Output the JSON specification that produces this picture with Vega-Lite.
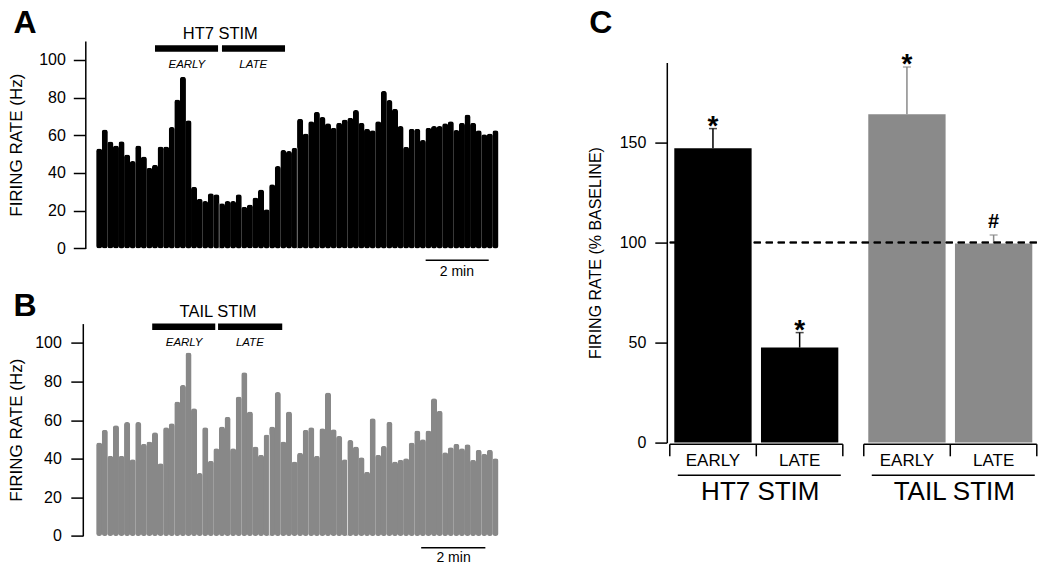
{
  "$schema": "https://vega.github.io/schema/vega-lite/v6.json",
  "autosize": {"type": "pad"},
  "padding": {"left": 7.3, "top": 7, "right": 5, "bottom": 5},
  "background": "white",
  "config": {
    "font": "Liberation Sans",
    "view": {"stroke": null},
    "bar": {"continuousBandSize": 6.1},
    "axis": {"domainColor": "#000", "domainWidth": 1.5, "tickColor": "#000", "tickWidth": 1.5, "labelColor": "#000", "titleColor": "#000", "titleFontWeight": "normal", "grid": false, "labelFont": "Liberation Sans", "titleFont": "Liberation Sans"},
    "text": {"font": "Liberation Sans", "color": "#000"}
  },
  "datasets": {
    "a": [
      {"i":0,"v":53},{"i":1,"v":63},{"i":2,"v":56.7},{"i":3,"v":54.6},{"i":4,"v":56.8},{"i":5,"v":49.8},{"i":6,"v":46.3},{"i":7,"v":54.6},{"i":8,"v":48.8},{"i":9,"v":42.8},
      {"i":10,"v":44.3},{"i":11,"v":54},{"i":12,"v":54},{"i":13,"v":64.4},{"i":14,"v":79},{"i":15,"v":91},{"i":16,"v":68},{"i":17,"v":32.7},{"i":18,"v":26.3},{"i":19,"v":25.1},
      {"i":20,"v":29.2},{"i":21,"v":28.7},{"i":22,"v":23.9},{"i":23,"v":25.1},{"i":24,"v":25.1},{"i":25,"v":28.7},{"i":26,"v":22.1},{"i":27,"v":23.3},{"i":28,"v":27},{"i":29,"v":31.3},
      {"i":30,"v":20.7},{"i":31,"v":34},{"i":32,"v":43.7},{"i":33,"v":52.2},{"i":34,"v":51.6},{"i":35,"v":53.4},{"i":36,"v":68.8},{"i":37,"v":61},{"i":38,"v":67.5},{"i":39,"v":72.4},
      {"i":40,"v":69.7},{"i":41,"v":66.4},{"i":42,"v":64},{"i":43,"v":66.7},{"i":44,"v":68.4},{"i":45,"v":69.3},{"i":46,"v":73.4},{"i":47,"v":66.7},{"i":48,"v":63.5},{"i":49,"v":62.6},
      {"i":50,"v":67.5},{"i":51,"v":83.5},{"i":52,"v":78.7},{"i":53,"v":74.1},{"i":54,"v":64.9},{"i":55,"v":53.9},{"i":56,"v":63.5},{"i":57,"v":63.5},{"i":58,"v":57.5},{"i":59,"v":64},
      {"i":60,"v":64.9},{"i":61,"v":64.9},{"i":62,"v":66.4},{"i":63,"v":67.5},{"i":64,"v":62.8},{"i":65,"v":66.7},{"i":66,"v":71},{"i":67,"v":66.7},{"i":68,"v":62.6},{"i":69,"v":60.5},
      {"i":70,"v":61},{"i":71,"v":62.6}
    ],
    "b": [
      {"i":0,"v":48.4},{"i":1,"v":55},{"i":2,"v":41.5},{"i":3,"v":57.3},{"i":4,"v":41.5},{"i":5,"v":59},{"i":6,"v":39.7},{"i":7,"v":59},{"i":8,"v":47.7},{"i":9,"v":48.9},
      {"i":10,"v":53.7},{"i":11,"v":37.6},{"i":12,"v":56.3},{"i":13,"v":58.4},{"i":14,"v":69.6},{"i":15,"v":78.2},{"i":16,"v":95},{"i":17,"v":66.2},{"i":18,"v":32.6},{"i":19,"v":56.3},
      {"i":20,"v":39},{"i":21,"v":45.4},{"i":22,"v":56.7},{"i":23,"v":61.8},{"i":24,"v":45.4},{"i":25,"v":72.2},{"i":26,"v":84.8},{"i":27,"v":64.4},{"i":28,"v":46.3},{"i":29,"v":42},
      {"i":30,"v":52.6},{"i":31,"v":56.7},{"i":32,"v":74.5},{"i":33,"v":48.9},{"i":34,"v":64.4},{"i":35,"v":38.5},{"i":36,"v":43.1},{"i":37,"v":55},{"i":38,"v":56.3},{"i":39,"v":41.5},
      {"i":40,"v":55.8},{"i":41,"v":74.3},{"i":42,"v":55.3},{"i":43,"v":51.8},{"i":44,"v":39.7},{"i":45,"v":49.7},{"i":46,"v":46.3},{"i":47,"v":40.8},{"i":48,"v":33.3},{"i":49,"v":61},
      {"i":50,"v":42},{"i":51,"v":46.6},{"i":52,"v":59.2},{"i":53,"v":38.5},{"i":54,"v":39.4},{"i":55,"v":40.2},{"i":56,"v":48.4},{"i":57,"v":54.6},{"i":58,"v":50.1},{"i":59,"v":54.6},
      {"i":60,"v":71.3},{"i":61,"v":64.8},{"i":62,"v":43.4},{"i":63,"v":45.9},{"i":64,"v":47.7},{"i":65,"v":45.4},{"i":66,"v":47.5},{"i":67,"v":39.4},{"i":68,"v":44.6},{"i":69,"v":42.5},
      {"i":70,"v":44.6},{"i":71,"v":40.2}
    ],
    "agaps": [{"x": 21.5, "top": 23.9}, {"x": 35.5, "top": 53.4}],
    "bgaps": [{"x": 30.5, "top": 52.6}, {"x": 44.5, "top": 39.7}],
    "astim": [
      {"period": "EARLY", "start": 10, "end": 21.3, "mid": 15.7},
      {"period": "LATE", "start": 22, "end": 33.3, "mid": 27.6}
    ],
    "bstim": [
      {"period": "EARLY", "start": 9.5, "end": 20.8, "mid": 15.2},
      {"period": "LATE", "start": 21.3, "end": 32.8, "mid": 27}
    ],
    "c": [
      {"stim": "HT7 STIM", "phase": "EARLY", "v": 147.2, "hi": 157, "sig": "*"},
      {"stim": "HT7 STIM", "phase": "LATE", "v": 47.5, "hi": 55, "sig": "*"},
      {"stim": "TAIL STIM", "phase": "EARLY", "v": 164.2, "hi": 187.8, "sig": "*"},
      {"stim": "TAIL STIM", "phase": "LATE", "v": 99.5, "hi": 103.8, "sig": "#"}
    ],
    "groups": [{"stim": "HT7 STIM"}, {"stim": "TAIL STIM"}]
  },
  "spacing": 82.5,
  "hconcat": [
    {
      "bounds": "flush",
      "spacing": 74.6,
      "vconcat": [
        {
          "width": 414,
          "height": 207.4,
          "layer": [
            {
              "data": {"name": "a"},
              "mark": {"type": "bar", "color": "#000", "width": 6.1, "cornerRadius": 2.7},
              "encoding": {
                "x": {"field": "i", "type": "quantitative", "scale": {"domain": [-0.5, 71.5], "nice": false, "zero": false}, "axis": null},
                "y": {"field": "v", "type": "quantitative", "scale": {"domain": [0, 110], "nice": false}, "axis": {"title": "FIRING RATE (Hz)", "values": [0, 20, 40, 60, 80, 100], "offset": 5, "tickSize": 12, "labelPadding": 8, "labelFontSize": 16, "titleFontSize": 17, "titlePadding": 13}}
              }
            },
            {
              "data": {"name": "agaps"},
              "mark": {"type": "rule", "color": "#777", "strokeWidth": 1},
              "encoding": {"x": {"field": "x", "type": "quantitative"}, "y": {"field": "top", "type": "quantitative"}, "y2": {"datum": 0}}
            },
            {
              "data": {"name": "astim"},
              "mark": {"type": "rule", "color": "#000", "strokeWidth": 6.5},
              "encoding": {"x": {"field": "start", "type": "quantitative"}, "x2": {"field": "end"}, "y": {"datum": 106}}
            },
            {
              "data": {"name": "astim"},
              "mark": {"type": "text", "fontSize": 11.5, "fontStyle": "italic", "baseline": "middle"},
              "encoding": {"x": {"field": "mid", "type": "quantitative"}, "y": {"datum": 97.2}, "text": {"field": "period"}}
            },
            {
              "data": {"values": [{"label": "HT7 STIM"}]},
              "mark": {"type": "text", "fontSize": 16.5, "baseline": "middle"},
              "encoding": {"x": {"datum": 21.7}, "y": {"datum": 113.6}, "text": {"field": "label"}}
            },
            {
              "data": {"values": [{"label": "A"}]},
              "mark": {"type": "text", "fontSize": 32, "fontWeight": "bold", "baseline": "alphabetic", "align": "center"},
              "encoding": {"x": {"datum": -13.3}, "y": {"datum": 114.1}, "text": {"field": "label"}}
            },
            {
              "data": {"values": [{"label": "2 min"}]},
              "mark": {"type": "rule", "color": "#000", "strokeWidth": 1.5},
              "encoding": {"x": {"datum": 58.5}, "x2": {"datum": 69.8}, "y": {"datum": -6.3}}
            },
            {
              "data": {"values": [{"label": "2 min"}]},
              "mark": {"type": "text", "fontSize": 14, "baseline": "middle"},
              "encoding": {"x": {"datum": 64.1}, "y": {"datum": -12.6}, "text": {"field": "label"}}
            }
          ]
        },
        {
          "width": 414,
          "height": 212.3,
          "layer": [
            {
              "data": {"name": "b"},
              "mark": {"type": "bar", "color": "#888888", "width": 6.1, "cornerRadius": 2.7},
              "encoding": {
                "x": {"field": "i", "type": "quantitative", "scale": {"domain": [-0.5, 71.5], "nice": false, "zero": false}, "axis": null},
                "y": {"field": "v", "type": "quantitative", "scale": {"domain": [0, 110], "nice": false}, "axis": {"title": "FIRING RATE (Hz)", "values": [0, 20, 40, 60, 80, 100], "offset": 7.5, "tickSize": 12, "labelPadding": 9.5, "labelFontSize": 16, "titleFontSize": 17, "titlePadding": 9}}
              }
            },
            {
              "data": {"name": "bgaps"},
              "mark": {"type": "rule", "color": "#d8d8d8", "strokeWidth": 1},
              "encoding": {"x": {"field": "x", "type": "quantitative"}, "y": {"field": "top", "type": "quantitative"}, "y2": {"datum": 0}}
            },
            {
              "data": {"name": "bstim"},
              "mark": {"type": "rule", "color": "#000", "strokeWidth": 6.5},
              "encoding": {"x": {"field": "start", "type": "quantitative"}, "x2": {"field": "end"}, "y": {"datum": 108.4}}
            },
            {
              "data": {"name": "bstim"},
              "mark": {"type": "text", "fontSize": 11.5, "fontStyle": "italic", "baseline": "middle"},
              "encoding": {"x": {"field": "mid", "type": "quantitative"}, "y": {"datum": 100.2}, "text": {"field": "period"}}
            },
            {
              "data": {"values": [{"label": "TAIL STIM"}]},
              "mark": {"type": "text", "fontSize": 16.5, "baseline": "middle"},
              "encoding": {"x": {"datum": 21.3}, "y": {"datum": 116}, "text": {"field": "label"}}
            },
            {
              "data": {"values": [{"label": "B"}]},
              "mark": {"type": "text", "fontSize": 32, "fontWeight": "bold", "baseline": "alphabetic", "align": "center"},
              "encoding": {"x": {"datum": -13.3}, "y": {"datum": 114}, "text": {"field": "label"}}
            },
            {
              "data": {"values": [{"label": "2 min"}]},
              "mark": {"type": "rule", "color": "#000", "strokeWidth": 1.5},
              "encoding": {"x": {"datum": 57.7}, "x2": {"datum": 69.2}, "y": {"datum": -6.2}}
            },
            {
              "data": {"values": [{"label": "2 min"}]},
              "mark": {"type": "text", "fontSize": 14, "baseline": "middle"},
              "encoding": {"x": {"datum": 63.5}, "y": {"datum": -11.4}, "text": {"field": "label"}}
            }
          ]
        }
      ]
    },
    {
      "bounds": "flush",
      "spacing": 20.6,
      "vconcat": [
        {
          "width": 1,
          "height": 1,
          "data": {"values": [{"label": ""}]},
          "mark": {"type": "text"},
          "encoding": {"text": {"field": "label"}}
        },
        {
          "width": 370,
          "height": 380,
          "data": {"name": "c"},
          "layer": [
            {
              "mark": {"type": "bar"},
              "encoding": {
                "x": {"field": "stim", "type": "nominal", "scale": {"paddingInner": 0.108, "paddingOuter": 0.0077, "align": 1}, "axis": null},
                "xOffset": {"field": "phase", "type": "nominal", "scale": {"paddingInner": 0.108, "paddingOuter": 0.052}},
                "y": {"field": "v", "type": "quantitative", "scale": {"domain": [0, 190], "nice": false}, "axis": {"title": "FIRING RATE (% BASELINE)", "values": [0, 50, 100, 150], "tickSize": 12, "labelPadding": 9, "labelFontSize": 16, "titleFontSize": 16, "titlePadding": 16}},
                "color": {"field": "stim", "type": "nominal", "scale": {"domain": ["HT7 STIM", "TAIL STIM"], "range": ["#000000", "#8a8a8a"]}, "legend": null}
              }
            },
            {
              "mark": {"type": "rule", "strokeWidth": 1.5},
              "encoding": {
                "x": {"field": "stim", "type": "nominal"},
                "xOffset": {"field": "phase", "type": "nominal"},
                "y": {"field": "v", "type": "quantitative"},
                "y2": {"field": "hi"},
                "color": {"field": "stim", "type": "nominal"}
              }
            },
            {
              "mark": {"type": "tick", "orient": "horizontal", "size": 8, "thickness": 1.5},
              "encoding": {
                "x": {"field": "stim", "type": "nominal"},
                "xOffset": {"field": "phase", "type": "nominal"},
                "y": {"field": "hi", "type": "quantitative"},
                "color": {"field": "stim", "type": "nominal"}
              }
            },
            {
              "mark": {"type": "rule", "color": "#000", "strokeWidth": 1.5, "strokeDash": [7, 5]},
              "encoding": {"y": {"datum": 100}}
            },
            {
              "transform": [{"filter": "datum.sig == '*'"}],
              "mark": {"type": "text", "fontSize": 28, "fontWeight": "bold", "baseline": "alphabetic", "dy": 6},
              "encoding": {
                "x": {"field": "stim", "type": "nominal"},
                "xOffset": {"field": "phase", "type": "nominal"},
                "y": {"field": "hi", "type": "quantitative"},
                "text": {"field": "sig"}
              }
            },
            {
              "transform": [{"filter": "datum.sig == '#'"}],
              "mark": {"type": "text", "fontSize": 20, "fontWeight": "bold", "baseline": "alphabetic", "dy": -7},
              "encoding": {
                "x": {"field": "stim", "type": "nominal"},
                "xOffset": {"field": "phase", "type": "nominal"},
                "y": {"field": "hi", "type": "quantitative"},
                "text": {"field": "sig"}
              }
            },
            {
              "mark": {"type": "text", "fontSize": 17, "baseline": "middle"},
              "encoding": {
                "x": {"field": "stim", "type": "nominal"},
                "xOffset": {"field": "phase", "type": "nominal"},
                "y": {"datum": -9.35},
                "text": {"field": "phase"}
              }
            },
            {
              "data": {"name": "groups"},
              "mark": {"type": "bar", "color": "#000", "width": {"band": 1}},
              "encoding": {
                "x": {"field": "stim", "type": "nominal"},
                "y": {"datum": -0.48},
                "y2": {"datum": -1.22}
              }
            },
            {
              "data": {"name": "groups"},
              "mark": {"type": "rule", "color": "#000", "strokeWidth": 1.5},
              "encoding": {"x": {"field": "stim", "type": "nominal", "bandPosition": 0}, "y": {"datum": -0.85}, "y2": {"datum": -6.85}}
            },
            {
              "data": {"name": "groups"},
              "mark": {"type": "rule", "color": "#000", "strokeWidth": 1.5},
              "encoding": {"x": {"field": "stim", "type": "nominal", "bandPosition": 0.5}, "y": {"datum": -0.85}, "y2": {"datum": -6.85}}
            },
            {
              "data": {"name": "groups"},
              "mark": {"type": "rule", "color": "#000", "strokeWidth": 1.5},
              "encoding": {"x": {"field": "stim", "type": "nominal", "bandPosition": 1}, "y": {"datum": -0.85}, "y2": {"datum": -6.85}}
            },
            {
              "data": {"name": "groups"},
              "mark": {"type": "bar", "color": "#000", "width": {"band": 0.942}, "xOffset": 3},
              "encoding": {
                "x": {"field": "stim", "type": "nominal"},
                "y": {"datum": -15.93},
                "y2": {"datum": -16.67}
              }
            },
            {
              "data": {"name": "groups"},
              "mark": {"type": "text", "fontSize": 26, "baseline": "middle", "dx": 4},
              "encoding": {"x": {"field": "stim", "type": "nominal"}, "y": {"datum": -24.9}, "text": {"field": "stim"}}
            },
            {
              "data": {"values": [{"stim": "HT7 STIM", "label": "C"}]},
              "mark": {"type": "text", "fontSize": 32, "fontWeight": "bold", "baseline": "alphabetic", "align": "center", "dx": -69},
              "encoding": {"x": {"field": "stim", "type": "nominal", "bandPosition": 0}, "y": {"datum": 204.6}, "text": {"field": "label"}}
            }
          ]
        }
      ]
    }
  ]
}
